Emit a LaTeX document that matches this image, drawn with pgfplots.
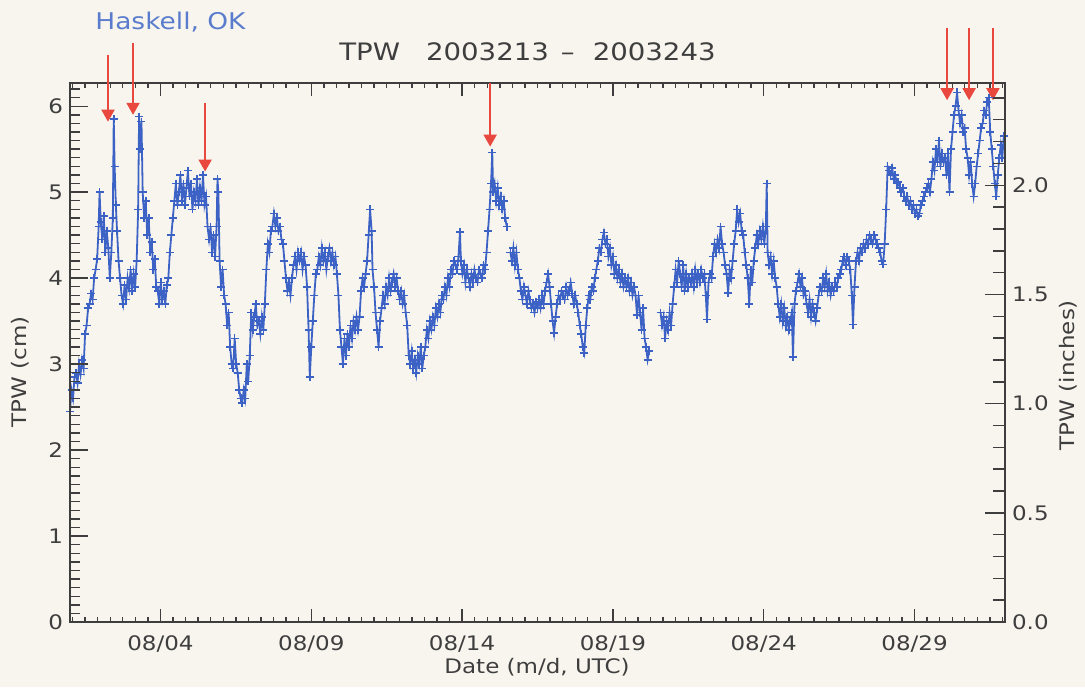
\documentclass[border=0pt]{standalone}
\usepackage{fontspec}
\setmainfont{DejaVu Sans}[FakeStretch=1.15]
\usepackage{pgfplots}
\usepackage{pgfplotstable}
\pgfplotsset{compat=1.18}
\usetikzlibrary{arrows.meta}

\definecolor{bgcol}{RGB}{247,245,238}
\definecolor{tpwblue}{RGB}{60,98,198}
\definecolor{arrowred}{RGB}{232,72,62}
\definecolor{axisgray}{RGB}{62,62,62}
\definecolor{sitecol}{RGB}{90,124,205}

% Total precipitable water, Haskell OK, day of August 2003 vs TPW (cm)
\pgfplotstableread{
day tpw
1.00 2.45
1.05 2.70
1.10 2.60
1.15 2.85
1.20 2.90
1.25 2.78
1.30 3.00
1.35 2.88
1.40 3.05
1.45 2.95
1.50 3.35
1.55 3.45
1.60 3.65
1.65 3.70
1.70 3.82
1.75 3.75
1.80 4.00
1.85 4.10
1.90 4.22
1.95 4.60
1.98 5.00
2.02 4.65
2.07 4.45
2.12 4.72
2.17 4.30
2.22 4.55
2.27 4.35
2.32 4.00
2.37 4.30
2.42 4.70
2.45 5.85
2.48 5.30
2.52 4.85
2.56 4.55
2.61 4.20
2.66 4.00
2.71 3.80
2.76 3.70
2.81 3.92
2.86 3.75
2.91 4.00
2.96 3.88
3.01 4.10
3.06 3.85
3.11 4.05
3.16 3.90
3.21 4.20
3.26 4.80
3.29 5.88
3.33 5.50
3.37 5.82
3.41 5.00
3.46 4.70
3.51 4.90
3.56 4.50
3.61 4.70
3.66 4.30
3.71 4.42
3.76 4.10
3.81 4.22
3.86 3.90
3.91 3.85
3.96 3.70
4.01 3.95
4.06 3.75
4.11 3.85
4.16 3.70
4.21 3.92
4.26 4.00
4.31 4.30
4.36 4.50
4.41 4.70
4.46 4.90
4.51 5.10
4.56 4.85
4.61 5.00
4.66 5.20
4.71 4.90
4.76 5.10
4.81 4.85
4.86 5.05
4.91 5.25
4.96 4.95
5.01 5.10
5.06 4.80
5.11 5.00
5.16 4.90
5.21 5.15
5.26 4.85
5.31 5.05
5.36 4.90
5.41 5.20
5.46 4.85
5.51 4.95
5.56 4.60
5.61 4.45
5.66 4.60
5.71 4.30
5.76 4.50
5.81 4.25
5.86 4.60
5.89 5.15
5.92 5.00
5.96 4.20
6.01 3.90
6.06 4.10
6.11 3.80
6.16 3.70
6.21 3.45
6.26 3.60
6.31 3.20
6.36 3.00
6.41 2.95
6.46 3.30
6.51 3.00
6.56 2.90
6.61 2.70
6.66 2.60
6.71 2.55
6.76 2.70
6.81 2.60
6.86 3.00
6.91 2.80
6.96 3.10
7.01 3.60
7.06 3.40
7.11 3.55
7.16 3.70
7.21 3.45
7.26 3.50
7.31 3.35
7.36 3.55
7.41 3.40
7.46 3.70
7.51 4.10
7.56 4.40
7.61 4.30
7.66 4.55
7.71 4.60
7.76 4.75
7.81 4.60
7.86 4.70
7.91 4.55
7.96 4.60
8.01 4.45
8.06 4.40
8.11 4.20
8.16 4.00
8.21 3.85
8.26 3.95
8.31 3.80
8.36 4.00
8.41 4.15
8.46 4.25
8.51 4.10
8.56 4.30
8.61 4.20
8.66 4.30
8.71 4.10
8.76 4.25
8.81 4.15
8.86 3.90
8.91 3.40
8.95 2.85
9.00 3.20
9.05 3.50
9.10 3.80
9.15 4.05
9.20 4.10
9.25 4.25
9.30 4.15
9.35 4.35
9.40 4.20
9.45 4.30
9.50 4.10
9.55 4.25
9.60 4.35
9.65 4.20
9.70 4.30
9.75 4.15
9.80 4.25
9.85 4.05
9.90 3.80
9.95 3.40
10.00 3.20
10.05 3.00
10.10 3.30
10.15 3.10
10.20 3.35
10.25 3.20
10.30 3.45
10.35 3.30
10.40 3.50
10.45 3.40
10.50 3.55
10.55 3.40
10.60 3.55
10.65 3.85
10.70 4.00
10.75 3.90
10.80 4.05
10.85 4.20
10.90 4.50
10.95 4.80
11.00 4.55
11.03 4.10
11.08 3.90
11.13 3.60
11.18 3.40
11.23 3.20
11.28 3.50
11.33 3.65
11.38 3.80
11.43 3.70
11.48 3.90
11.53 3.80
11.58 4.00
11.63 3.85
11.68 3.95
11.73 4.05
11.78 3.90
11.83 4.00
11.88 3.85
11.93 3.75
11.98 3.85
12.03 3.70
12.08 3.80
12.13 3.60
12.18 3.45
12.23 3.10
12.28 3.00
12.33 3.15
12.38 2.95
12.43 3.05
12.48 2.90
12.53 3.10
12.58 3.00
12.63 3.20
12.68 2.95
12.73 3.10
12.78 3.20
12.83 3.40
12.88 3.30
12.93 3.50
12.98 3.40
13.03 3.55
13.08 3.45
13.13 3.65
13.18 3.55
13.23 3.70
13.28 3.60
13.33 3.80
13.38 3.75
13.43 3.90
13.48 3.80
13.53 4.00
13.58 3.90
13.63 4.10
13.68 4.05
13.73 4.20
13.78 4.15
13.83 4.10
13.88 4.25
13.93 4.54
13.96 4.20
14.01 4.05
14.06 4.15
14.11 3.95
14.16 4.10
14.21 4.00
14.26 3.90
14.31 4.05
14.36 3.95
14.41 4.10
14.46 4.00
14.51 3.95
14.56 4.10
14.61 4.05
14.66 4.00
14.71 4.15
14.76 4.10
14.81 4.30
14.86 4.55
14.91 4.80
14.96 5.10
15.00 5.46
15.03 5.00
15.08 5.10
15.13 4.90
15.18 5.05
15.23 4.85
15.28 4.95
15.33 4.80
15.38 4.90
15.43 4.70
15.48 4.60
15.54 nan
15.60 4.30
15.65 4.20
15.70 4.35
15.75 4.15
15.80 4.30
15.85 4.10
15.90 4.00
15.95 3.85
16.00 3.75
16.05 3.90
16.10 3.80
16.15 3.70
16.20 3.85
16.25 3.75
16.30 3.65
16.35 3.70
16.40 3.60
16.45 3.72
16.50 3.65
16.55 3.75
16.60 3.65
16.65 3.80
16.70 3.70
16.75 3.85
16.80 3.95
16.85 4.05
16.90 3.90
16.95 3.70
17.00 3.50
17.05 3.36
17.10 3.55
17.15 3.70
17.20 3.80
17.25 3.75
17.30 3.85
17.35 3.80
17.40 3.75
17.45 3.90
17.50 3.80
17.55 3.85
17.60 3.95
17.65 3.82
17.70 3.70
17.75 3.80
17.80 3.70
17.85 3.60
17.90 3.45
17.95 3.35
18.00 3.20
18.05 3.13
18.10 3.45
18.15 3.65
18.20 3.80
18.25 3.75
18.30 3.90
18.35 3.85
18.40 4.00
18.45 4.10
18.50 4.20
18.55 4.35
18.60 4.30
18.65 4.45
18.70 4.53
18.75 4.40
18.80 4.45
18.85 4.25
18.90 4.35
18.95 4.15
19.00 4.25
19.05 4.05
19.10 4.15
19.15 4.00
19.20 4.10
19.25 3.95
19.30 4.05
19.35 3.90
19.40 4.00
19.45 3.90
19.50 4.00
19.55 3.85
19.60 3.95
19.65 3.80
19.70 3.90
19.75 3.80
19.80 3.57
19.85 3.80
19.90 3.60
19.95 3.40
20.00 3.65
20.05 3.30
20.10 3.20
20.15 3.05
20.20 3.15
20.40 nan
20.58 3.60
20.63 3.45
20.68 3.55
20.73 3.30
20.78 3.50
20.83 3.40
20.88 3.60
20.93 3.45
20.98 3.70
21.03 3.90
21.08 4.10
21.13 3.95
21.18 4.20
21.23 4.05
21.28 3.90
21.33 4.15
21.38 3.85
21.43 4.05
21.48 3.90
21.53 4.00
21.58 3.95
21.63 4.05
21.68 3.90
21.73 4.10
21.78 3.95
21.83 4.05
21.88 3.95
21.93 4.10
21.98 4.00
22.03 4.05
22.08 3.80
22.12 3.52
22.17 3.95
22.22 4.05
22.27 4.00
22.32 4.25
22.37 4.40
22.42 4.30
22.47 4.45
22.52 4.35
22.57 4.60
22.62 4.40
22.67 4.30
22.72 4.15
22.77 4.05
22.82 3.83
22.87 4.10
22.92 4.00
22.97 4.20
23.02 4.40
23.07 4.55
23.12 4.80
23.17 4.65
23.22 4.75
23.27 4.55
23.32 4.50
23.37 4.30
23.42 4.15
23.47 4.00
23.52 3.70
23.57 4.10
23.62 3.95
23.67 4.20
23.72 4.35
23.77 4.50
23.82 4.40
23.87 4.55
23.92 4.45
23.97 4.60
24.02 4.40
24.07 4.60
24.10 5.10
24.13 4.30
24.18 4.15
24.23 4.25
24.28 4.05
24.33 4.20
24.38 4.00
24.43 3.90
24.48 3.70
24.53 3.55
24.58 3.70
24.63 3.50
24.68 3.65
24.73 3.45
24.78 3.55
24.83 3.40
24.88 3.50
24.93 3.60
24.97 3.08
25.02 3.70
25.07 3.85
25.12 3.95
25.17 4.05
25.22 3.90
25.27 4.00
25.32 3.80
25.37 3.85
25.42 3.70
25.47 3.60
25.52 3.75
25.57 3.55
25.62 3.70
25.67 3.60
25.72 3.50
25.77 3.65
25.82 3.80
25.87 3.90
25.92 3.85
25.97 4.00
26.02 3.90
26.07 4.05
26.12 3.85
26.17 3.95
26.22 3.80
26.27 3.90
26.32 3.85
26.37 3.95
26.42 3.90
26.47 4.00
26.52 4.05
26.57 4.10
26.62 4.20
26.67 4.25
26.72 4.15
26.77 4.25
26.82 4.20
26.87 4.10
26.92 3.80
26.96 3.46
27.01 3.90
27.06 4.20
27.11 4.30
27.16 4.20
27.21 4.35
27.26 4.30
27.31 4.40
27.36 4.35
27.41 4.45
27.46 4.40
27.51 4.50
27.56 4.45
27.61 4.40
27.66 4.50
27.71 4.45
27.76 4.40
27.81 4.35
27.86 4.30
27.91 4.20
27.96 4.16
28.01 4.40
28.06 4.80
28.11 5.30
28.16 5.25
28.21 5.20
28.26 5.28
28.31 5.15
28.36 5.20
28.41 5.10
28.46 5.12
28.51 5.05
28.56 5.00
28.61 5.05
28.66 4.95
28.71 4.90
28.76 4.95
28.81 4.85
28.86 4.90
28.91 4.80
28.96 4.85
29.01 4.75
29.06 4.80
29.11 4.72
29.16 4.75
29.21 4.85
29.26 4.90
29.31 4.95
29.36 5.00
29.41 5.05
29.46 5.10
29.51 5.00
29.56 5.15
29.61 5.35
29.66 5.25
29.71 5.50
29.76 5.35
29.81 5.60
29.86 5.30
29.91 5.45
29.96 5.35
30.01 5.40
30.06 5.20
30.11 5.45
30.16 5.00
30.21 5.50
30.26 5.70
30.31 5.90
30.36 6.00
30.41 6.16
30.46 5.95
30.51 5.80
30.56 5.90
30.61 5.70
30.66 5.75
30.71 5.50
30.76 5.40
30.81 5.20
30.86 5.35
30.91 5.10
30.96 4.95
31.01 5.10
31.06 5.30
31.11 5.45
31.16 5.60
31.21 5.75
31.26 5.80
31.31 5.95
31.36 5.90
31.41 6.05
31.46 6.10
31.51 5.70
31.56 5.50
31.61 5.30
31.66 5.10
31.71 4.95
31.76 5.20
31.81 5.40
31.86 5.55
31.91 5.40
31.96 5.65
}\tpwdata

\tikzset{
  eventarrow/.style={draw=arrowred, line width=1pt,
    -{Triangle[width=6.5pt,length=6pt]}},
}

\pgfplotsset{
  tpwframe/.style={
    at={(0,0)}, anchor=south west,
    scale only axis, width=467.5pt, height=269.5pt,
    xmin=1, xmax=32,
    axis line style={axisgray, line width=1pt},
    tick style={axisgray, line width=0.7pt},
    tick align=inside,
    ticklabel style={text=axisgray, font=\fontsize{10}{12}\selectfont},
    label style={text=axisgray, font=\fontsize{10}{12}\selectfont},
    /pgf/number format/assume math mode=true,
  },
}

\begin{document}
\begin{tikzpicture}
\fill[bgcol] (-35pt,-32.5pt) rectangle (507.5pt,311pt);

% main frame: data, date ticks on bottom and top
\begin{axis}[tpwframe,
  ymin=0, ymax=6.27,
  xtick={4,9,14,19,24,29},
  xticklabels={08/04,08/09,08/14,08/19,08/24,08/29},
  minor xtick={1.083333,1.5,...,31.95},
  xtick pos=both,
  ytick=\empty,
  major tick length=6.5pt, minor tick length=2.5pt,
  xticklabel style={yshift=-3.5pt},
  xlabel={Date (m/d, UTC)},
  xlabel style={at={(axis description cs:0.4995,0)}, anchor=center, yshift=-22.5pt},
  title={TPW\hspace{13pt}2003213\hspace{6pt}–\hspace{9pt}2003243},
  title style={at={(axis description cs:0.4893,1.0353)}, anchor=center,
    text=axisgray, font=\fontsize{12}{14}\selectfont},
  clip=false,
  unbounded coords=jump,
]
\addplot[tpwblue, line width=0.9pt, mark=+, mark size=2pt,
  mark options={line width=0.8pt}] table[x=day, y=tpw] {\tpwdata};

% marked events
\draw[eventarrow] (axis cs:2.26,6.60) -- (axis cs:2.26,5.82);
\draw[eventarrow] (axis cs:3.09,6.74) -- (axis cs:3.09,5.90);
\draw[eventarrow] (axis cs:5.48,6.04) -- (axis cs:5.48,5.24);
\draw[eventarrow] (axis cs:14.93,6.27) -- (axis cs:14.93,5.53);
\draw[eventarrow] (axis cs:30.08,6.91) -- (axis cs:30.08,6.07);
\draw[eventarrow] (axis cs:30.81,6.91) -- (axis cs:30.81,6.07);
\draw[eventarrow] (axis cs:31.60,6.91) -- (axis cs:31.60,6.07);

\node[anchor=west, inner sep=0pt, text=sitecol, font=\fontsize{11.5}{13}\selectfont]
  at (axis description cs:0.0267,1.1132) {Haskell, OK};
\end{axis}

% left axis, cm
\begin{axis}[tpwframe,
  hide x axis, axis y line*=left,
  ymin=0, ymax=6.27,
  ytick={0,1,...,6},
  minor ytick={0,0.1,...,6.25},
  tick align=inside,
  major tick length=9pt, minor tick length=5pt,
  ylabel={TPW (cm)},
  ylabel style={at={(axis description cs:-0.0535,0.464)}, anchor=center},
]
\end{axis}

% right axis, inches
\begin{axis}[tpwframe,
  hide x axis, axis y line*=right,
  ymin=0, ymax=2.4685,
  ytick={0,0.5,...,2.0},
  minor ytick={0,0.1,...,2.45},
  tick align=inside,
  major tick length=10pt, minor tick length=6pt,
  yticklabel style={/pgf/number format/.cd, fixed, fixed zerofill, precision=1},
  ylabel={TPW (inches)},
  ylabel style={at={(axis description cs:1.0674,0.458)}, anchor=center},
]
\end{axis}

\pgfresetboundingbox
\path[use as bounding box] (-35pt,-32.5pt) rectangle (507.5pt,311pt);
\end{tikzpicture}
\end{document}
